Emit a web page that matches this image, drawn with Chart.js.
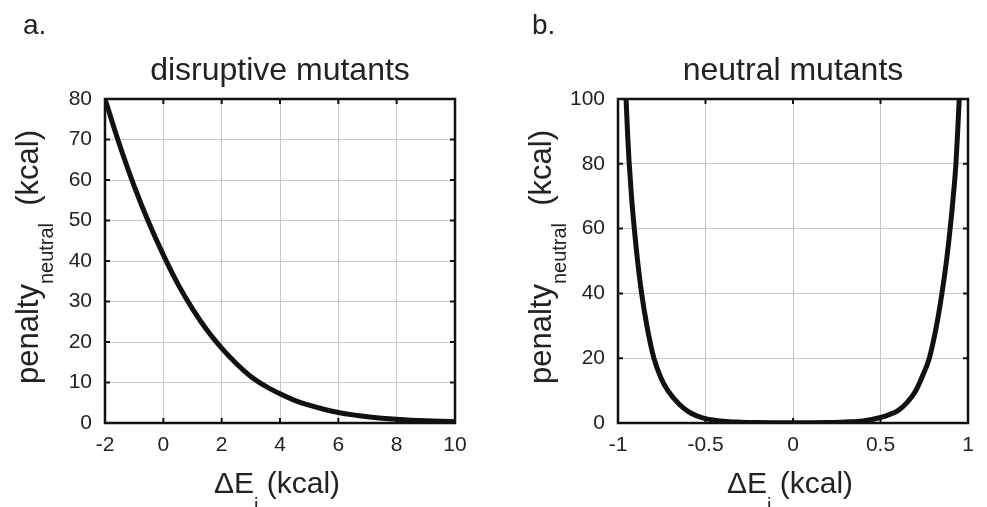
<!DOCTYPE html>
<html>
<head>
<meta charset="utf-8">
<script src="https://cdn.jsdelivr.net/npm/chart.js@4.4.1/dist/chart.umd.min.js"></script>
<style>
  body { margin: 0; background: #fff; }
  #wrapA { position: absolute; left: 0; top: 0; }
  #wrapB { position: absolute; left: 493px; top: 0; }
</style>
</head>
<body>
<div id="wrapA"><canvas id="chartA" width="493" height="507"></canvas></div>
<div id="wrapB"><canvas id="chartB" width="494" height="507"></canvas></div>
<script>
// painel a: mutantes disruptivos
const energiaA = [-2, -1.5, -1, -0.5, 0, 0.5, 1, 1.5, 2, 2.5, 3, 3.5, 4, 4.5, 5, 5.5, 6, 6.5, 7, 7.5, 8, 8.5, 9, 9.5, 10];
const penalA = [80, 68.7, 58.5, 49.5, 41.5, 34.3, 28.2, 22.9, 18.5, 14.7, 11.5, 9.1, 7.2, 5.6, 4.4, 3.4, 2.6, 2.0, 1.55, 1.2, 0.92, 0.7, 0.54, 0.42, 0.32];
const xTicksA = [-2, 0, 2, 4, 6, 8, 10];
const yTicksA = [0, 10, 20, 30, 40, 50, 60, 70, 80];

// painel b: mutantes neutros
const energiaB = [-0.96, -0.954, -0.945, -0.937, -0.923, -0.907, -0.888, -0.865, -0.835, -0.795, -0.755, -0.715, -0.65, -0.6, -0.55, -0.5, -0.4, -0.3, -0.2, -0.1, 0,
                  0.1, 0.2, 0.3, 0.4, 0.5, 0.55, 0.6, 0.65, 0.7, 0.74, 0.779, 0.82, 0.851, 0.877, 0.898, 0.916, 0.931, 0.941, 0.95, 0.958];
const penalB = [108, 100, 89, 81, 70, 60, 50, 40, 30, 20, 14, 10, 5.8, 3.6, 2.2, 1.35, 0.55, 0.25, 0.12, 0.08, 0.07,
                0.08, 0.14, 0.3, 0.65, 1.7, 2.6, 3.8, 6.2, 9.8, 14.5, 20, 30, 40, 50, 60, 70, 80, 90, 100, 110];
const xTicksB = [-1, -0.5, 0, 0.5, 1];
const yTicksB = [0, 20, 40, 60, 80, 100];

const FONT = "'Liberation Sans', Arial, Helvetica, sans-serif";
const TEXT = '#222';

// desenha uma sequência de pedaços de texto (com subscrito) centrada em cx
function drawParts(ctx, parts, cx, y) {
    let total = 0;
    parts.forEach(p => { ctx.font = p.s + 'px ' + FONT; p.w = ctx.measureText(p.t).width; total += p.w; });
    let x = cx - total / 2;
    ctx.textAlign = 'left';
    ctx.textBaseline = 'alphabetic';
    parts.forEach(p => {
        ctx.font = p.s + 'px ' + FONT;
        ctx.fillText(p.t, x, y + p.dy);
        x += p.w;
    });
}

// moldura, ticks para dentro e textos
const framePlugin = {
    id: 'frame',
    afterDraw(chart, args, opts) {
        const ctx = chart.ctx;
        const a = chart.chartArea;
        const sx = chart.scales.x, sy = chart.scales.y;
        ctx.save();
        ctx.strokeStyle = '#111';
        ctx.lineWidth = 2;
        ctx.beginPath();
        sx.ticks.forEach(t => {
            const px = sx.getPixelForValue(t.value);
            ctx.moveTo(px, a.bottom); ctx.lineTo(px, a.bottom - 5);
            ctx.moveTo(px, a.top); ctx.lineTo(px, a.top + 5);
        });
        sy.ticks.forEach(t => {
            const py = sy.getPixelForValue(t.value);
            ctx.moveTo(a.left, py); ctx.lineTo(a.left + 5, py);
            ctx.moveTo(a.right, py); ctx.lineTo(a.right - 5, py);
        });
        ctx.stroke();
        ctx.lineWidth = 2.5;
        ctx.strokeRect(a.left, a.top, a.right - a.left, a.bottom - a.top);

        ctx.fillStyle = TEXT;
        // letra do painel
        ctx.font = '28px ' + FONT;
        ctx.textAlign = 'left';
        ctx.textBaseline = 'alphabetic';
        ctx.fillText(opts.panel, opts.panelX, 34);
        // título
        const cx = (a.left + a.right) / 2;
        ctx.font = '32px ' + FONT;
        ctx.textAlign = 'center';
        ctx.fillText(opts.title, cx, 80);
        // eixo x
        drawParts(ctx, [{t: 'ΔE', s: 30, dy: 0}, {t: 'i', s: 20, dy: 19}, {t: ' (kcal)', s: 30, dy: 0}], cx - 3, a.bottom + 70);
        // eixo y (rotacionado)
        ctx.translate(a.left - 67, (a.top + a.bottom) / 2 - 4);
        ctx.rotate(-Math.PI / 2);
        drawParts(ctx, [{t: 'penalty', s: 31, dy: 0}, {t: 'neutral', s: 20, dy: 15}, {t: '  (kcal)', s: 31, dy: 0}], 0, 0);
        ctx.restore();
    }
};

function makeChart(id, xs, ys, xTicks, yTicks, yWidth, padRight, panel, panelX, title) {
    const ctx = document.getElementById(id).getContext('2d');
    return new Chart(ctx, {
        type: 'line',
        data: {
            datasets: [{
                data: xs.map((x, i) => ({x: x, y: ys[i]})),
                borderColor: '#111',
                borderWidth: 5,
                pointRadius: 0,
                cubicInterpolationMode: 'monotone',
                fill: false,
                clip: 0
            }]
        },
        options: {
            responsive: false,
            animation: false,
            layout: {padding: {top: 99, right: padRight, bottom: 0, left: 0}},
            plugins: {
                legend: {display: false},
                tooltip: {enabled: false},
                frame: {panel: panel, panelX: panelX, title: title}
            },
            scales: {
                x: {
                    type: 'linear',
                    min: xTicks[0],
                    max: xTicks[xTicks.length - 1],
                    afterBuildTicks: s => { s.ticks = xTicks.map(v => ({value: v})); },
                    afterFit: s => { s.height = 84; },
                    grid: {color: '#c6c6c6', lineWidth: 1, drawTicks: false},
                    border: {display: false},
                    ticks: {font: {family: FONT, size: 21}, color: TEXT, padding: 10, maxRotation: 0, callback: v => String(v)}
                },
                y: {
                    type: 'linear',
                    min: yTicks[0],
                    max: yTicks[yTicks.length - 1],
                    afterBuildTicks: s => { s.ticks = yTicks.map(v => ({value: v})); },
                    afterFit: s => { s.width = yWidth; },
                    grid: {color: '#c6c6c6', lineWidth: 1, drawTicks: false},
                    border: {display: false},
                    ticks: {font: {family: FONT, size: 21}, color: TEXT, padding: 13, callback: v => String(v)}
                }
            }
        },
        plugins: [framePlugin]
    });
}

makeChart('chartA', energiaA, penalA, xTicksA, yTicksA, 105, 38, 'a.', 23, 'disruptive mutants');
makeChart('chartB', energiaB, penalB, xTicksB, yTicksB, 125, 19, 'b.', 39, 'neutral mutants');
</script>
</body>
</html>
